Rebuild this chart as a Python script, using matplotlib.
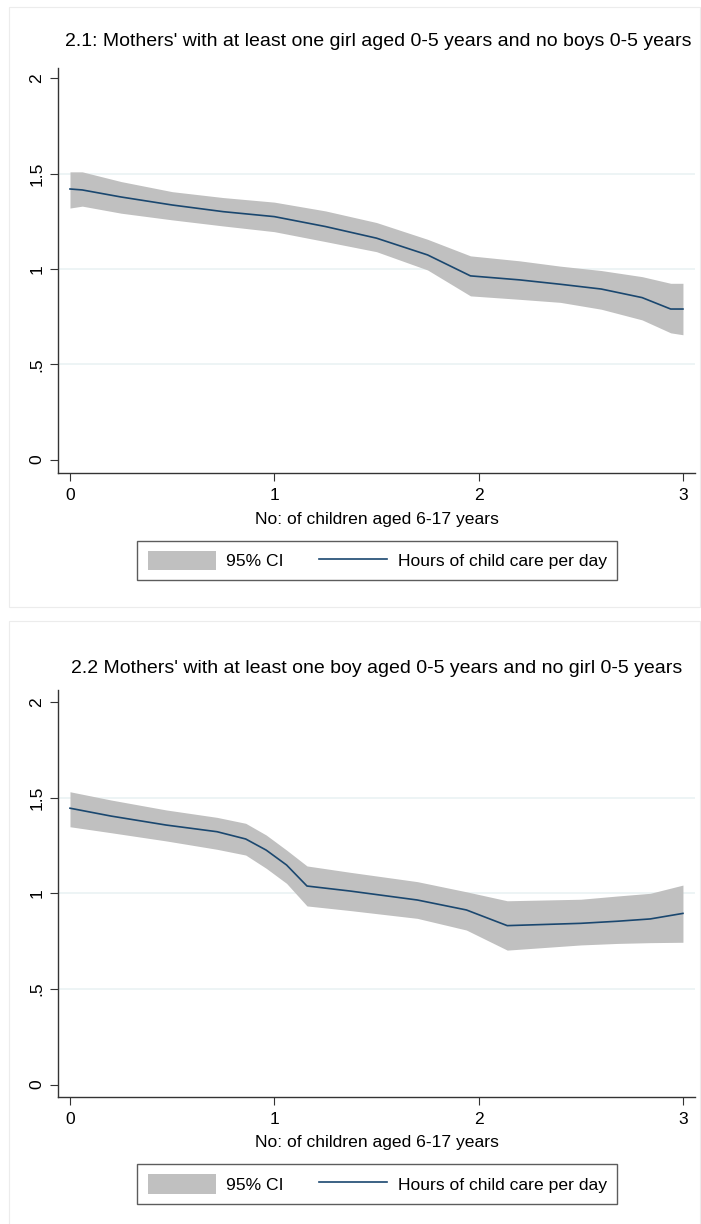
import matplotlib
matplotlib.use("Agg")
import matplotlib.pyplot as plt
from matplotlib.patches import Rectangle, Patch
from matplotlib.lines import Line2D

plt.rcParams['font.family'] = ['Liberation Sans', 'DejaVu Sans']

# ---- data ----
title_top = "2.1: Mothers' with at least one girl aged 0-5 years and no boys 0-5 years"
title_bot = "2.2 Mothers' with at least one boy aged 0-5 years and no girl 0-5 years"
xlabel = "No: of children aged 6-17 years"
legend_labels = ["95% CI", "Hours of child care per day"]

x_top = [0, 0.06, 0.25, 0.5, 0.75, 1.0, 1.25, 1.5, 1.75, 1.96, 2.2, 2.4, 2.6, 2.8, 2.94, 3.0]
mid_top = [1.42, 1.415, 1.378, 1.336, 1.301, 1.275, 1.223, 1.162, 1.074, 0.964, 0.943, 0.92, 0.895, 0.85, 0.79, 0.79]
hi_top = [1.51, 1.51, 1.459, 1.406, 1.375, 1.351, 1.305, 1.244, 1.156, 1.069, 1.043, 1.015, 0.992, 0.96, 0.925, 0.925]
lo_top = [1.32, 1.33, 1.293, 1.258, 1.226, 1.196, 1.144, 1.091, 0.995, 0.859, 0.841, 0.825, 0.789, 0.733, 0.665, 0.655]

x_bot = [0, 0.2, 0.47, 0.72, 0.86, 0.96, 1.06, 1.16, 1.37, 1.7, 1.94, 2.14, 2.5, 2.68, 2.84, 3.0]
mid_bot = [1.445, 1.404, 1.357, 1.322, 1.284, 1.226, 1.148, 1.038, 1.012, 0.965, 0.913, 0.831, 0.843, 0.854, 0.866, 0.895]
hi_bot = [1.531, 1.488, 1.436, 1.397, 1.366, 1.305, 1.226, 1.143, 1.11, 1.061, 1.008, 0.961, 0.969, 0.986, 1.0, 1.043]
lo_bot = [1.348, 1.317, 1.274, 1.23, 1.2, 1.131, 1.052, 0.934, 0.91, 0.869, 0.808, 0.703, 0.73, 0.738, 0.742, 0.744]

xticks = [0, 1, 2, 3]
yticks = [0, 0.5, 1, 1.5, 2]
yticklabels = ["0", ".5", "1", "1.5", "2"]
ygrid = [0.5, 1, 1.5]

# ---- style ----
W, H = 701, 1224
BAND = '#c0c0c0'
LINE = '#1a476f'
GRID = '#eaf2f3'
AX = '#333333'
FS = 12.6

fig = plt.figure(figsize=(W / 100, H / 100), dpi=100)
fig.patch.set_facecolor('white')

def fx(px):
    return px / W

def fy(py):
    return 1 - py / H

# faint panel borders
for (x0, y0, x1, y1) in [(9, 7, 700, 607), (9, 621, 700, 1240)]:
    fig.patches.append(Rectangle((fx(x0), fy(y1)), fx(x1) - fx(x0), fy(y0) - fy(y1),
                                 transform=fig.transFigure, fill=False,
                                 edgecolor='#ececec', lw=0.8))

panels = [
    dict(title=title_top, x=x_top, mid=mid_top, hi=hi_top, lo=lo_top,
         ax_top=68, ax_bot=472.7, ylim=(-0.069, 2.055), title_y=41, title_x=378,
         xlab_y=519, leg_y=560.4),
    dict(title=title_bot, x=x_bot, mid=mid_bot, hi=hi_bot, lo=lo_bot,
         ax_top=690, ax_bot=1097, ylim=(-0.065, 2.063), title_y=669, title_x=377,
         xlab_y=1143, leg_y=1184),
]

for p in panels:
    ax = fig.add_axes([fx(58), fy(p['ax_bot']), fx(695) - fx(58), (p['ax_bot'] - p['ax_top']) / H])
    ax.set_facecolor('white')
    for g in ygrid:
        ax.axhline(g, color=GRID, lw=1.2, zorder=0)
    ax.fill_between(p['x'], p['lo'], p['hi'], color=BAND, lw=0, zorder=1)
    ax.plot(p['x'], p['mid'], color=LINE, lw=1.2, zorder=2)
    ax.set_xlim(-0.0587, 3.059)
    ax.set_ylim(*p['ylim'])
    for s in ['top', 'right']:
        ax.spines[s].set_visible(False)
    for s in ['left', 'bottom']:
        ax.spines[s].set_color(AX)
        ax.spines[s].set_linewidth(1.0)
    ax.set_xticks(xticks)
    ax.set_xticklabels([str(t) for t in xticks])
    ax.set_yticks(yticks)
    ax.set_yticklabels(yticklabels, rotation=90, va='center')
    ax.tick_params(axis='both', length=5.8, width=0.8, color=AX, labelsize=FS, labelcolor='black')
    ax.tick_params(axis='x', pad=5)
    ax.tick_params(axis='y', pad=4)

    fig.text(fx(p['title_x']), fy(p['title_y']), p['title'], ha='center', va='center',
             fontsize=14.0, color='black')
    fig.text(fx(377), fy(p['xlab_y']), xlabel, ha='center', va='center', fontsize=FS, color='black')

    handles = [Patch(facecolor=BAND, edgecolor='none'),
               Line2D([0], [0], color=LINE, lw=1.2)]
    leg = fig.legend(handles, legend_labels, loc='center', bbox_to_anchor=(fx(377), fy(p['leg_y'])),
                     ncol=2, fontsize=FS, frameon=True, fancybox=False, edgecolor=AX,
                     handlelength=3.9, handleheight=1.3, handletextpad=0.6,
                     columnspacing=2.0, borderpad=0.58, borderaxespad=0)
    leg.get_frame().set_linewidth(1.0)

fig.savefig('out.png', dpi=100, facecolor='white')
